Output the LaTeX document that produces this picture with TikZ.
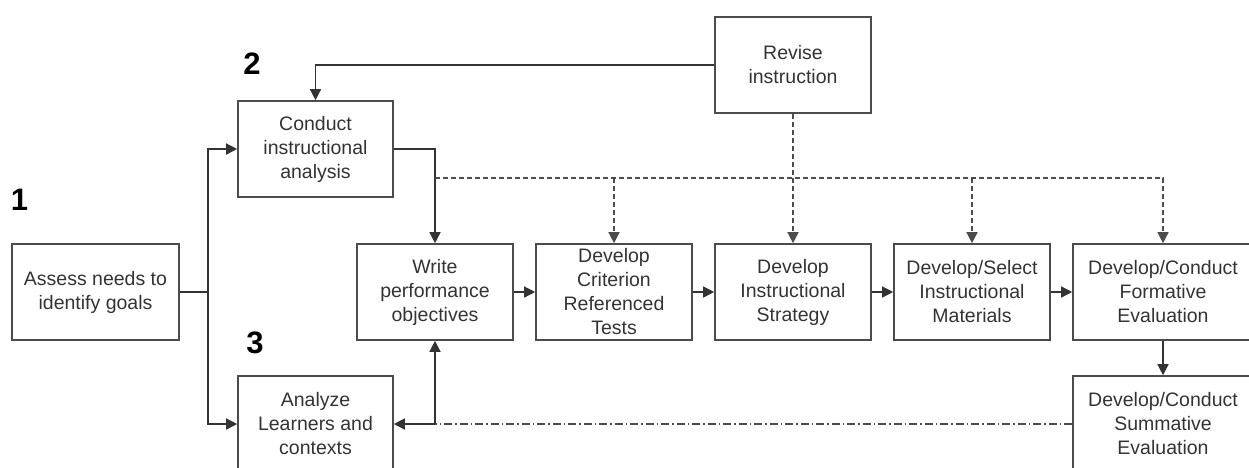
\documentclass[tikz,border=0pt]{standalone}
\usepackage{fontspec}
\setmainfont{Liberation Sans}
\usepackage{xcolor}
\usetikzlibrary{arrows.meta}

\begin{document}
\begin{tikzpicture}[x=1pt,y=-1pt,
  stage/.style={draw=black!70,line width=1.6pt,minimum width=156pt,minimum height=96pt,
    inner sep=0pt,align=center,text=black!80,font=\fontsize{19.5}{24}\selectfont},
  stepnum/.style={font=\fontsize{31}{31}\bfseries\selectfont,inner sep=0pt},
  flow/.style={draw=black!80,line width=1.4pt,-{Triangle[length=11pt,width=11pt]}},
  feedback/.style={flow,draw=black!70,dash pattern=on 5pt off 3pt},
  line/.style={draw=black!80,line width=1.4pt}]
\useasboundingbox (0,0) rectangle (1249,467);

\node[stepnum] (n1) at (19.5,200) {1};
\node[stepnum] (n2) at (252,63.5) {2};
\node[stepnum] (n3) at (255,343) {3};

\node[stage,minimum width=167pt] (assess) at (95.5,292) {Assess needs to\\identify goals};
\node[stage,minimum width=155pt] (conduct) at (315.5,149) {Conduct\\instructional\\analysis};
\node[stage,minimum width=155pt] (analyze) at (315.5,424) {Analyze\\Learners and\\contexts};
\node[stage] (write) at (435,292) {Write\\performance\\objectives};
\node[stage] (criterion) at (614,292) {Develop\\Criterion\\Referenced\\Tests};
\node[stage] (strategy) at (793,292) {Develop\\Instructional\\Strategy};
\node[stage] (materials) at (972,292) {Develop/Select\\Instructional\\Materials};
\node[stage,minimum width=180pt] (formative) at (1163,292) {Develop/Conduct\\Formative\\Evaluation};
\node[stage,minimum width=180pt] (summative) at (1163,424) {Develop/Conduct\\Summative\\Evaluation};
\node[stage] (revise) at (793,65) {Revise\\instruction};

\coordinate (split) at (208,292);
\coordinate (fanout) at (435,178);
\coordinate (meet) at (435,424);

\draw[line] (assess.east) -- (split);
\draw[flow] (split) |- (conduct.west);
\draw[flow] (split) |- (analyze.west);
\draw[flow] (conduct.east) -| (write.north);
\draw[flow] (revise.west) -| (conduct.north);

\draw[flow] (write) -- (criterion);
\draw[flow] (criterion) -- (strategy);
\draw[flow] (strategy) -- (materials);
\draw[flow] (materials) -- (formative);
\draw[flow] (formative) -- (summative);

\draw[feedback] (revise) -- (strategy);
\draw[feedback] (fanout) -| (formative.north);
\draw[feedback] (fanout -| criterion) -- (criterion.north);
\draw[feedback] (fanout -| materials) -- (materials.north);

\draw[line,draw=black!70,dash pattern=on 8pt off 3pt on 1.5pt off 3pt] (summative.west) -- (meet);
\draw[flow] (meet) -- (analyze.east);
\draw[flow] (meet) -- (write.south);
\end{tikzpicture}
\end{document}
